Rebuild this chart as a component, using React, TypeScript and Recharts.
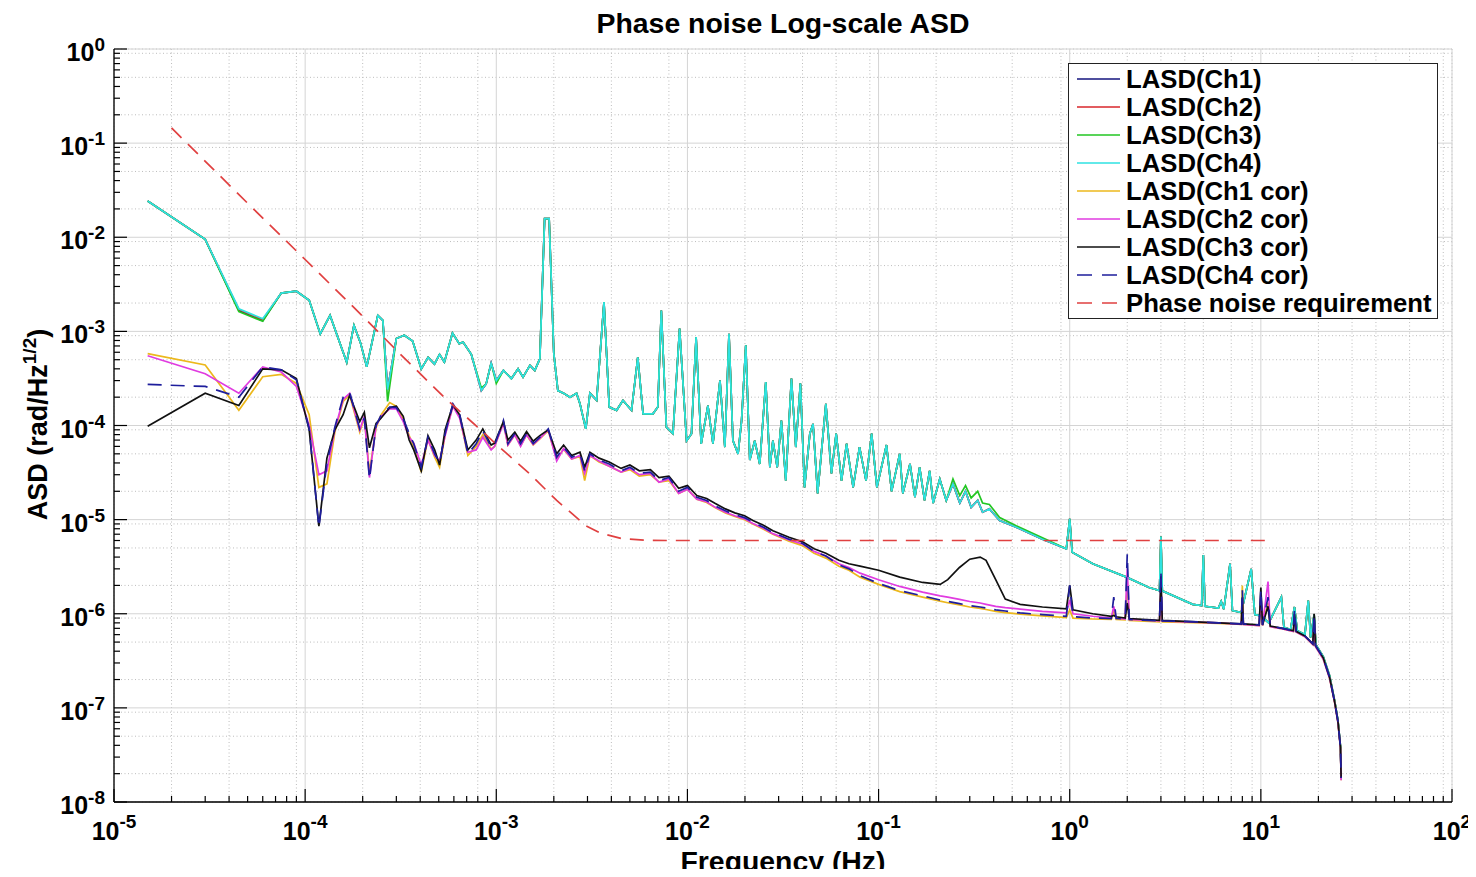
import React from "react";
import { LineChart, Line, XAxis, YAxis, CartesianGrid, Legend, Label } from "recharts";

const FONT = "'Liberation Sans', Arial, Helvetica, sans-serif";

// axis ticks
const xMajor = [1e-5, 1e-4, 1e-3, 1e-2, 1e-1, 1, 10, 100];
const xExp = ["-5", "-4", "-3", "-2", "-1", "0", "1", "2"];
const yMajor = [1e-8, 1e-7, 1e-6, 1e-5, 1e-4, 1e-3, 1e-2, 1e-1, 1];
const yExp = ["-8", "-7", "-6", "-5", "-4", "-3", "-2", "-1", "0"];
const minorSteps = [2, 3, 4, 5, 6, 7, 8, 9];
const xMinor = xMajor.slice(0, -1).flatMap((d) => minorSteps.map((m) => m * d));
const yMinor = yMajor.slice(0, -1).flatMap((d) => minorSteps.map((m) => m * d));
const xAll = [...xMajor, ...xMinor].sort((a, b) => a - b);
const yAll = [...yMajor, ...yMinor].sort((a, b) => a - b);
const xDomain = [1e-5, 100];
const yDomain = [1e-8, 1];

// uncorrected channels (upper bundle)
const upperFreq = [
  1.5e-5, 3e-5, 4.5e-5, 6e-5, 7.5e-5, 9e-5, 1.05e-4, 1.2e-4, 1.35e-4, 1.65e-4,
  1.8e-4, 1.95e-4, 2.1e-4, 2.4e-4, 2.55e-4, 2.7e-4, 3.0e-4, 3.3e-4, 3.65e-4, 4.05e-4,
  4.4e-4, 4.75e-4, 5.05e-4, 5.35e-4, 5.9e-4, 6.4e-4, 6.7e-4, 7.4e-4, 8.35e-4, 8.85e-4,
  9.4e-4, 1.0e-3, 1.09e-3, 1.2e-3, 1.3e-3, 1.38e-3, 1.5e-3, 1.59e-3, 1.69e-3, 1.79e-3,
  1.89e-3, 2.0e-3, 2.1e-3, 2.25e-3, 2.43e-3, 2.63e-3, 2.74e-3, 2.94e-3, 3.09e-3, 3.35e-3,
  3.66e-3, 3.9e-3, 4.26e-3, 4.6e-3, 5.1e-3, 5.5e-3, 5.86e-3, 6.6e-3, 7.0e-3, 7.3e-3,
  7.76e-3, 8.4e-3, 9.1e-3, 9.9e-3, 1.05e-2, 1.11e-2, 1.18e-2, 1.28e-2, 1.36e-2, 1.48e-2,
  1.57e-2, 1.65e-2, 1.73e-2, 1.84e-2, 1.92e-2, 2.02e-2, 2.12e-2, 2.25e-2, 2.39e-2, 2.57e-2,
  2.7e-2, 2.8e-2, 2.95e-2, 3.1e-2, 3.27e-2, 3.5e-2, 3.69e-2, 3.9e-2, 4.1e-2, 4.37e-2,
  4.54e-2, 4.8e-2, 5.3e-2, 5.67e-2, 6.0e-2, 6.4e-2, 6.8e-2, 7.36e-2, 7.95e-2, 8.6e-2,
  9.2e-2, 9.8e-2, 0.11, 0.117, 0.129, 0.134, 0.146, 0.155, 0.164, 0.174,
  0.185, 0.193, 0.209, 0.226, 0.245, 0.266, 0.285, 0.305, 0.33, 0.35,
  0.38, 0.43, 0.525, 0.72, 0.96, 1.0, 1.03, 1.32, 1.98, 2.6,
  2.95, 3.0, 3.05, 4.4, 4.9, 5.0, 5.1, 6.0, 6.2, 6.4,
  6.9, 7.1, 7.9, 8.9, 9.3, 10.0, 11.0, 12.8, 13.2, 14.3,
  15.0, 15.5, 17.0, 17.7, 18.2, 19.0, 19.4, 21.2, 22.9, 24.3,
  25.3, 26.1, 26.3,
];

const ch4Vals = [
  2.43e-2, 9.5e-3, 1.74e-3, 1.36e-3, 2.55e-3, 2.67e-3, 2.14e-3, 9.4e-4, 1.48e-3, 4.7e-4,
  1.16e-3, 7.5e-4, 4.2e-4, 1.48e-3, 1.31e-3, 2.4e-4, 8.4e-4, 9.1e-4, 7.9e-4, 4.0e-4,
  5.3e-4, 4.5e-4, 5.7e-4, 4.7e-4, 9.6e-4, 7.4e-4, 7.7e-4, 5.7e-4, 2.35e-4, 2.77e-4,
  4.6e-4, 3.0e-4, 3.85e-4, 3.15e-4, 4.0e-4, 3.27e-4, 4.36e-4, 3.85e-4, 5.1e-4, 1.58e-2,
  1.58e-2, 5.8e-4, 2.35e-4, 2.2e-4, 2.0e-4, 2.2e-4, 1.7e-4, 9.2e-5, 2.2e-4, 1.85e-4,
  2.05e-3, 1.57e-4, 1.45e-4, 1.85e-4, 1.45e-4, 5.3e-4, 1.33e-4, 1.33e-4, 1.57e-4, 1.67e-3,
  9.6e-5, 8.2e-5, 1.07e-3, 6.9e-5, 8.2e-5, 8.7e-4, 6.4e-5, 1.63e-4, 6.4e-5, 3.0e-4,
  5.9e-5, 9.4e-4, 6.9e-5, 5.0e-5, 1.13e-4, 7.1e-4, 4.3e-5, 6.9e-5, 3.9e-5, 2.9e-4,
  3.6e-5, 6.9e-5, 3.6e-5, 1.13e-4, 2.6e-5, 3.15e-4, 5.9e-5, 2.8e-4, 2.2e-5, 8.2e-5,
  1.04e-4, 1.9e-5, 1.7e-4, 3.1e-5, 8.2e-5, 2.6e-5, 6.4e-5, 2.2e-5, 5.9e-5, 2.6e-5,
  8.2e-5, 2.2e-5, 6.2e-5, 2.0e-5, 5.0e-5, 1.9e-5, 3.9e-5, 1.73e-5, 3.6e-5, 1.6e-5,
  3.3e-5, 1.5e-5, 2.7e-5, 1.6e-5, 2.4e-5, 1.5e-5, 2.0e-5, 1.35e-5, 1.6e-5, 1.2e-5,
  1.3e-5, 9.8e-6, 8.3e-6, 6.2e-6, 4.9e-6, 1.02e-5, 4.5e-6, 3.4e-6, 2.45e-6, 1.9e-6,
  1.76e-6, 6.6e-6, 1.75e-6, 1.26e-6, 1.22e-6, 4.2e-6, 1.2e-6, 1.15e-6, 1.35e-6, 1.12e-6,
  3.4e-6, 1.08e-6, 1.03e-6, 3.0e-6, 9.8e-7, 9.5e-7, 8.0e-7, 1.5e-6, 7.2e-7, 6.8e-7,
  1.18e-6, 6.6e-7, 6.0e-7, 1.38e-6, 5.6e-7, 9.8e-7, 4.7e-7, 3.5e-7, 2.2e-7, 1.2e-7,
  7.4e-8, 3.9e-8, 1.9e-8,
];

const ch3Vals = [
  2.43e-2, 9.5e-3, 1.62e-3, 1.28e-3, 2.55e-3, 2.67e-3, 2.14e-3, 9.4e-4, 1.48e-3, 4.7e-4,
  1.16e-3, 7.5e-4, 4.2e-4, 1.48e-3, 1.31e-3, 1.8e-4, 8.4e-4, 9.1e-4, 7.9e-4, 4.0e-4,
  5.3e-4, 4.5e-4, 5.7e-4, 4.7e-4, 9.6e-4, 7.4e-4, 7.7e-4, 5.7e-4, 2.5e-4, 2.77e-4,
  4.6e-4, 2.8e-4, 3.85e-4, 3.15e-4, 4.0e-4, 3.27e-4, 4.36e-4, 3.85e-4, 5.1e-4, 1.58e-2,
  1.58e-2, 5.8e-4, 2.35e-4, 2.2e-4, 2.0e-4, 2.2e-4, 1.7e-4, 9.2e-5, 2.2e-4, 1.85e-4,
  2.05e-3, 1.57e-4, 1.45e-4, 1.85e-4, 1.45e-4, 5.3e-4, 1.33e-4, 1.33e-4, 1.57e-4, 1.67e-3,
  9.6e-5, 8.2e-5, 1.07e-3, 6.9e-5, 8.2e-5, 8.7e-4, 6.4e-5, 1.63e-4, 6.4e-5, 3.0e-4,
  5.9e-5, 9.4e-4, 6.9e-5, 5.0e-5, 1.13e-4, 7.1e-4, 4.3e-5, 6.9e-5, 3.9e-5, 2.9e-4,
  3.6e-5, 6.9e-5, 3.6e-5, 1.13e-4, 2.6e-5, 3.15e-4, 5.9e-5, 2.8e-4, 2.2e-5, 8.2e-5,
  1.04e-4, 1.9e-5, 1.7e-4, 3.1e-5, 8.2e-5, 2.6e-5, 6.4e-5, 2.2e-5, 5.9e-5, 2.6e-5,
  8.2e-5, 2.2e-5, 6.2e-5, 2.0e-5, 5.0e-5, 1.9e-5, 3.9e-5, 1.73e-5, 3.6e-5, 1.6e-5,
  3.3e-5, 1.5e-5, 2.7e-5, 1.6e-5, 2.7e-5, 1.8e-5, 2.3e-5, 1.7e-5, 2.0e-5, 1.5e-5,
  1.45e-5, 1.05e-5, 8.6e-6, 6.4e-6, 4.9e-6, 1.02e-5, 4.5e-6, 3.4e-6, 2.45e-6, 1.9e-6,
  1.76e-6, 6.6e-6, 1.75e-6, 1.26e-6, 1.22e-6, 4.2e-6, 1.2e-6, 1.15e-6, 1.35e-6, 1.12e-6,
  3.4e-6, 1.08e-6, 1.03e-6, 3.0e-6, 9.8e-7, 9.5e-7, 8.0e-7, 1.5e-6, 7.2e-7, 6.8e-7,
  1.18e-6, 6.6e-7, 6.0e-7, 1.38e-6, 5.6e-7, 9.8e-7, 4.7e-7, 3.5e-7, 2.2e-7, 1.2e-7,
  7.4e-8, 3.9e-8, 1.9e-8,
];

const ch1Vals = [
  2.43e-2, 9.5e-3, 1.66e-3, 1.3e-3, 2.55e-3, 2.67e-3, 2.14e-3, 9.4e-4, 1.48e-3, 4.7e-4,
  1.16e-3, 7.5e-4, 4.2e-4, 1.48e-3, 1.31e-3, 2.4e-4, 8.4e-4, 9.1e-4, 7.9e-4, 4.0e-4,
  5.3e-4, 4.5e-4, 5.7e-4, 4.7e-4, 9.6e-4, 7.4e-4, 7.7e-4, 5.7e-4, 2.35e-4, 2.77e-4,
  4.6e-4, 3.0e-4, 3.85e-4, 3.15e-4, 4.0e-4, 3.27e-4, 4.36e-4, 3.85e-4, 5.1e-4, 1.58e-2,
  1.58e-2, 5.8e-4, 2.35e-4, 2.2e-4, 2.0e-4, 2.2e-4, 1.7e-4, 9.2e-5, 2.2e-4, 1.85e-4,
  2.05e-3, 1.57e-4, 1.45e-4, 1.85e-4, 1.45e-4, 5.3e-4, 1.33e-4, 1.33e-4, 1.57e-4, 1.67e-3,
  9.6e-5, 8.2e-5, 1.07e-3, 6.9e-5, 8.2e-5, 8.7e-4, 6.4e-5, 1.63e-4, 6.4e-5, 3.0e-4,
  5.9e-5, 9.4e-4, 6.9e-5, 5.0e-5, 1.13e-4, 7.1e-4, 4.3e-5, 6.9e-5, 3.9e-5, 2.9e-4,
  3.6e-5, 6.9e-5, 3.6e-5, 1.13e-4, 2.6e-5, 3.15e-4, 5.9e-5, 2.8e-4, 2.2e-5, 8.2e-5,
  1.04e-4, 1.9e-5, 1.7e-4, 3.1e-5, 8.2e-5, 2.6e-5, 6.4e-5, 2.2e-5, 5.9e-5, 2.6e-5,
  8.2e-5, 2.2e-5, 6.2e-5, 2.0e-5, 5.0e-5, 1.9e-5, 3.9e-5, 1.73e-5, 3.6e-5, 1.6e-5,
  3.3e-5, 1.5e-5, 2.7e-5, 1.6e-5, 2.4e-5, 1.5e-5, 2.0e-5, 1.35e-5, 1.6e-5, 1.2e-5,
  1.3e-5, 9.8e-6, 8.3e-6, 6.2e-6, 4.9e-6, 1.02e-5, 4.5e-6, 3.4e-6, 2.45e-6, 1.9e-6,
  1.76e-6, 6.6e-6, 1.75e-6, 1.26e-6, 1.22e-6, 4.2e-6, 1.2e-6, 1.15e-6, 1.35e-6, 1.12e-6,
  3.4e-6, 1.08e-6, 1.03e-6, 3.0e-6, 9.8e-7, 9.5e-7, 8.0e-7, 1.5e-6, 7.2e-7, 6.8e-7,
  1.18e-6, 6.6e-7, 6.0e-7, 1.38e-6, 5.6e-7, 9.8e-7, 4.7e-7, 3.5e-7, 2.2e-7, 1.2e-7,
  7.4e-8, 3.9e-8, 1.9e-8,
];

const ch2Vals = [
  2.43e-2, 9.5e-3, 1.7e-3, 1.33e-3, 2.55e-3, 2.67e-3, 2.14e-3, 9.4e-4, 1.48e-3, 4.7e-4,
  1.16e-3, 7.5e-4, 4.2e-4, 1.48e-3, 1.31e-3, 2.4e-4, 8.4e-4, 9.1e-4, 7.9e-4, 4.0e-4,
  5.3e-4, 4.5e-4, 5.7e-4, 4.7e-4, 9.6e-4, 7.4e-4, 7.7e-4, 5.7e-4, 2.35e-4, 2.77e-4,
  4.6e-4, 3.0e-4, 3.85e-4, 3.15e-4, 4.0e-4, 3.27e-4, 4.36e-4, 3.85e-4, 5.1e-4, 1.58e-2,
  1.58e-2, 5.8e-4, 2.35e-4, 2.2e-4, 2.0e-4, 2.2e-4, 1.7e-4, 9.2e-5, 2.2e-4, 1.85e-4,
  2.05e-3, 1.57e-4, 1.45e-4, 1.85e-4, 1.45e-4, 5.3e-4, 1.33e-4, 1.33e-4, 1.57e-4, 1.67e-3,
  9.6e-5, 8.2e-5, 1.07e-3, 6.9e-5, 8.2e-5, 8.7e-4, 6.4e-5, 1.63e-4, 6.4e-5, 3.0e-4,
  5.9e-5, 9.4e-4, 6.9e-5, 5.0e-5, 1.13e-4, 7.1e-4, 4.3e-5, 6.9e-5, 3.9e-5, 2.9e-4,
  3.6e-5, 6.9e-5, 3.6e-5, 1.13e-4, 2.6e-5, 3.15e-4, 5.9e-5, 2.8e-4, 2.2e-5, 8.2e-5,
  1.04e-4, 1.9e-5, 1.7e-4, 3.1e-5, 8.2e-5, 2.6e-5, 6.4e-5, 2.2e-5, 5.9e-5, 2.6e-5,
  8.2e-5, 2.2e-5, 6.2e-5, 2.0e-5, 5.0e-5, 1.9e-5, 3.9e-5, 1.73e-5, 3.6e-5, 1.6e-5,
  3.3e-5, 1.5e-5, 2.7e-5, 1.6e-5, 2.4e-5, 1.5e-5, 2.0e-5, 1.35e-5, 1.6e-5, 1.2e-5,
  1.3e-5, 9.8e-6, 8.3e-6, 6.2e-6, 4.9e-6, 1.02e-5, 4.5e-6, 3.4e-6, 2.45e-6, 1.9e-6,
  1.76e-6, 6.6e-6, 1.75e-6, 1.26e-6, 1.22e-6, 4.2e-6, 1.2e-6, 1.15e-6, 1.35e-6, 1.12e-6,
  3.4e-6, 1.08e-6, 1.03e-6, 3.0e-6, 9.8e-7, 9.5e-7, 8.0e-7, 1.5e-6, 7.2e-7, 6.8e-7,
  1.18e-6, 6.6e-7, 6.0e-7, 1.38e-6, 5.6e-7, 9.8e-7, 4.7e-7, 3.5e-7, 2.2e-7, 1.2e-7,
  7.4e-8, 3.9e-8, 1.9e-8,
];

// corrected channels (lower bundle)
const lowerFreq = [
  1.5e-5, 3e-5, 4.5e-5, 6e-5, 7.5e-5, 9e-5, 1.05e-4, 1.18e-4, 1.3e-4, 1.43e-4,
  1.58e-4, 1.71e-4, 1.93e-4, 2.04e-4, 2.17e-4, 2.35e-4, 2.5e-4, 2.77e-4, 3.0e-4, 3.26e-4,
  3.5e-4, 3.7e-4, 4.05e-4, 4.39e-4, 4.76e-4, 5.05e-4, 5.4e-4, 5.93e-4, 6.43e-4, 7.1e-4,
  7.85e-4, 8.5e-4, 9.4e-4, 9.8e-4, 1.09e-3, 1.15e-3, 1.25e-3, 1.34e-3, 1.44e-3, 1.56e-3,
  1.69e-3, 1.87e-3, 2.07e-3, 2.25e-3, 2.48e-3, 2.74e-3, 2.9e-3, 3.09e-3, 3.45e-3, 3.9e-3,
  4.5e-3, 5.0e-3, 5.6e-3, 6.4e-3, 7.1e-3, 8.0e-3, 9.0e-3, 1.0e-2, 1.12e-2, 1.26e-2,
  1.4e-2, 1.58e-2, 1.77e-2, 1.99e-2, 2.2e-2, 2.5e-2, 2.8e-2, 3.4e-2, 4.0e-2, 4.6e-2,
  5.3e-2, 6.2e-2, 7.0e-2, 8.0e-2, 0.1, 0.129, 0.17, 0.21, 0.23, 0.265,
  0.3, 0.34, 0.365, 0.41, 0.46, 0.55, 0.72, 0.96, 1.0, 1.04,
  1.32, 1.65, 1.7, 1.75, 1.95, 2.0, 2.05, 2.95, 3.0, 3.05,
  4.0, 6.0, 7.9, 8.0, 8.1, 9.8, 10.0, 10.2, 10.9, 11.2,
  13.0, 14.8, 15.0, 15.3, 17.0, 18.7, 19.0, 19.3, 21.2, 22.9,
  24.3, 25.3, 26.1, 26.3,
];

const ch1CorVals = [
  5.8e-4, 4.4e-4, 1.45e-4, 3.3e-4, 3.5e-4, 2.8e-4, 1.3e-4, 2.2e-5, 2.4e-5, 8.5e-5,
  1.8e-4, 2.1e-4, 8.5e-5, 1.2e-4, 3.2e-5, 9.5e-5, 1.3e-4, 1.75e-4, 1.6e-4, 1.15e-4,
  7.8e-5, 6.0e-5, 3.2e-5, 7.2e-5, 4.6e-5, 3.6e-5, 8.0e-5, 1.62e-4, 1.25e-4, 4.8e-5,
  6.0e-5, 8.0e-5, 5.6e-5, 6.0e-5, 1.08e-4, 6.2e-5, 7.9e-5, 6.1e-5, 7.9e-5, 6.2e-5,
  7.2e-5, 8.8e-5, 4.4e-5, 5.6e-5, 4.4e-5, 4.7e-5, 2.6e-5, 4.8e-5, 4.1e-5, 3.7e-5,
  3.2e-5, 3.4e-5, 2.9e-5, 3.0e-5, 2.5e-5, 2.6e-5, 1.9e-5, 2.1e-5, 1.65e-5, 1.52e-5,
  1.34e-5, 1.18e-5, 1.08e-5, 1.0e-5, 9.0e-6, 7.9e-6, 7.0e-6, 5.9e-6, 5.3e-6, 4.4e-6,
  3.9e-6, 3.2e-6, 2.9e-6, 2.45e-6, 2.05e-6, 1.72e-6, 1.5e-6, 1.36e-6, 1.31e-6, 1.24e-6,
  1.18e-6, 1.14e-6, 1.11e-6, 1.06e-6, 1.03e-6, 9.9e-7, 9.5e-7, 9.1e-7, 1.1e-6, 9.0e-7,
  8.8e-7, 8.7e-7, 1.1e-6, 8.7e-7, 8.6e-7, 2.2e-6, 8.5e-7, 8.2e-7, 1.6e-6, 8.2e-7,
  8.1e-7, 7.9e-7, 7.7e-7, 2.0e-6, 7.7e-7, 7.5e-7, 1.4e-6, 7.5e-7, 1.3e-6, 7.3e-7,
  6.9e-7, 6.5e-7, 8.5e-7, 6.4e-7, 5.7e-7, 4.7e-7, 8.0e-7, 4.5e-7, 3.3e-7, 2.05e-7,
  1.15e-7, 7.0e-8, 3.7e-8, 1.7e-8,
];

const ch2CorVals = [
  5.5e-4, 3.55e-4, 2.2e-4, 4.2e-4, 3.7e-4, 2.6e-4, 1.0e-4, 3.0e-5, 3.3e-5, 9.0e-5,
  1.9e-4, 2.2e-4, 9.0e-5, 1.25e-4, 2.8e-5, 1.0e-4, 1.25e-4, 1.5e-4, 1.5e-4, 1.1e-4,
  7.5e-5, 6.5e-5, 3.8e-5, 7.0e-5, 4.8e-5, 4.2e-5, 7.8e-5, 1.6e-4, 1.2e-4, 5.2e-5,
  5.5e-5, 7.5e-5, 5.5e-5, 6.0e-5, 1.05e-4, 6.2e-5, 8.0e-5, 6.0e-5, 8.0e-5, 6.3e-5,
  7.3e-5, 9.0e-5, 4.2e-5, 5.7e-5, 4.4e-5, 4.8e-5, 3.1e-5, 4.8e-5, 4.2e-5, 3.7e-5,
  3.2e-5, 3.5e-5, 3.0e-5, 3.1e-5, 2.5e-5, 2.7e-5, 1.9e-5, 2.1e-5, 1.65e-5, 1.55e-5,
  1.35e-5, 1.2e-5, 1.1e-5, 1.02e-5, 9.1e-6, 8.1e-6, 7.1e-6, 6.1e-6, 5.5e-6, 4.6e-6,
  4.1e-6, 3.4e-6, 3.1e-6, 2.7e-6, 2.3e-6, 1.95e-6, 1.7e-6, 1.55e-6, 1.5e-6, 1.42e-6,
  1.35e-6, 1.3e-6, 1.26e-6, 1.2e-6, 1.16e-6, 1.12e-6, 1.06e-6, 1.02e-6, 1.4e-6, 1.0e-6,
  9.4e-7, 9.0e-7, 1.2e-6, 9.0e-7, 8.8e-7, 3.0e-6, 8.7e-7, 8.4e-7, 2.0e-6, 8.4e-7,
  8.2e-7, 8.0e-7, 7.7e-7, 1.3e-6, 7.7e-7, 7.5e-7, 1.6e-6, 7.5e-7, 2.2e-6, 7.3e-7,
  6.9e-7, 6.5e-7, 9.0e-7, 6.4e-7, 5.7e-7, 4.7e-7, 8.5e-7, 4.5e-7, 3.3e-7, 2.05e-7,
  1.15e-7, 7.0e-8, 3.7e-8, 1.7e-8,
];

const ch3CorVals = [
  9.8e-5, 2.2e-4, 1.63e-4, 4.0e-4, 3.9e-4, 3.15e-4, 9.0e-5, 8.5e-6, 4.5e-5, 9.0e-5,
  1.3e-4, 2.1e-4, 1.1e-4, 1.38e-4, 5.8e-5, 1.05e-4, 1.2e-4, 1.55e-4, 1.6e-4, 1.25e-4,
  7.0e-5, 5.5e-5, 3.3e-5, 7.8e-5, 5.5e-5, 3.8e-5, 9.0e-5, 1.65e-4, 1.3e-4, 5.5e-5,
  7.0e-5, 9.2e-5, 6.2e-5, 6.5e-5, 1.1e-4, 7.0e-5, 8.5e-5, 6.8e-5, 8.6e-5, 6.8e-5,
  7.8e-5, 9.0e-5, 5.0e-5, 6.2e-5, 4.8e-5, 5.2e-5, 3.6e-5, 5.2e-5, 4.5e-5, 4.1e-5,
  3.5e-5, 3.8e-5, 3.3e-5, 3.4e-5, 2.8e-5, 2.9e-5, 2.15e-5, 2.3e-5, 1.8e-5, 1.68e-5,
  1.48e-5, 1.3e-5, 1.18e-5, 1.1e-5, 9.8e-6, 8.7e-6, 7.6e-6, 6.5e-6, 5.8e-6, 4.9e-6,
  4.4e-6, 3.7e-6, 3.4e-6, 3.2e-6, 2.9e-6, 2.45e-6, 2.15e-6, 2.05e-6, 2.3e-6, 3.1e-6,
  3.8e-6, 4.0e-6, 3.7e-6, 2.3e-6, 1.43e-6, 1.26e-6, 1.18e-6, 1.13e-6, 2.0e-6, 1.1e-6,
  1.0e-6, 9.4e-7, 9.6e-7, 9.3e-7, 9.0e-7, 1.3e-6, 8.9e-7, 8.5e-7, 2.5e-6, 8.5e-7,
  8.3e-7, 8.0e-7, 7.8e-7, 1.5e-6, 7.8e-7, 7.6e-7, 1.9e-6, 7.6e-7, 1.2e-6, 7.4e-7,
  7.0e-7, 6.6e-7, 1.0e-6, 6.5e-7, 5.8e-7, 4.8e-7, 1.0e-6, 4.6e-7, 3.4e-7, 2.1e-7,
  1.17e-7, 7.2e-8, 3.8e-8, 1.8e-8,
];

const ch4CorVals = [
  2.73e-4, 2.6e-4, 2.0e-4, 4.2e-4, 3.9e-4, 3.05e-4, 9.2e-5, 8.3e-6, 4.0e-5, 9.6e-5,
  2.0e-4, 2.26e-4, 9.2e-5, 1.2e-4, 2.7e-5, 1.0e-4, 1.3e-4, 1.57e-4, 1.55e-4, 1.18e-4,
  8.2e-5, 6.4e-5, 3.6e-5, 7.5e-5, 5.0e-5, 4.0e-5, 8.2e-5, 1.7e-4, 1.32e-4, 5.0e-5,
  6.4e-5, 8.8e-5, 5.9e-5, 6.2e-5, 1.13e-4, 6.4e-5, 8.2e-5, 6.4e-5, 8.2e-5, 6.4e-5,
  7.5e-5, 9.2e-5, 4.6e-5, 5.9e-5, 4.6e-5, 5.0e-5, 3.3e-5, 5.0e-5, 4.3e-5, 3.9e-5,
  3.3e-5, 3.6e-5, 3.1e-5, 3.2e-5, 2.6e-5, 2.8e-5, 2.0e-5, 2.2e-5, 1.73e-5, 1.6e-5,
  1.4e-5, 1.24e-5, 1.13e-5, 1.05e-5, 9.4e-6, 8.3e-6, 7.3e-6, 6.2e-6, 5.6e-6, 4.6e-6,
  4.1e-6, 3.3e-6, 3.0e-6, 2.54e-6, 2.1e-6, 1.76e-6, 1.55e-6, 1.4e-6, 1.35e-6, 1.28e-6,
  1.22e-6, 1.18e-6, 1.15e-6, 1.1e-6, 1.07e-6, 1.02e-6, 9.8e-7, 9.4e-7, 2.0e-6, 9.3e-7,
  9.0e-7, 8.9e-7, 1.5e-6, 8.9e-7, 8.8e-7, 4.3e-6, 8.7e-7, 8.4e-7, 2.8e-6, 8.4e-7,
  8.3e-7, 8.0e-7, 7.8e-7, 1.8e-6, 7.8e-7, 7.6e-7, 1.8e-6, 7.6e-7, 1.5e-6, 7.4e-7,
  7.0e-7, 6.6e-7, 1.1e-6, 6.5e-7, 5.8e-7, 4.8e-7, 9.8e-7, 4.6e-7, 3.4e-7, 2.1e-7,
  1.17e-7, 7.2e-8, 3.8e-8, 1.8e-8,
];

// requirement curve
const reqFreq = [2e-5, 5e-5, 1e-4, 2e-4, 3.1e-4, 5.4e-4, 8.5e-4, 1.0e-3, 1.5e-3, 2.07e-3, 2.5e-3, 2.95e-3, 3.5e-3, 4.5e-3, 6e-3, 8e-3, 1e-2, 11.1];
const reqVals = [1.45e-1, 2.3e-2, 5.8e-3, 1.45e-3, 5.9e-4, 1.95e-4, 8.6e-5, 6.3e-5, 3.05e-5, 1.6e-5, 1.15e-5, 8.6e-6, 7.2e-6, 6.3e-6, 6.05e-6, 6.0e-6, 6.0e-6, 6.0e-6];

const toPoints = (fs: number[], vs: number[]) => fs.map((f, i) => ({ f, v: vs[i] }));

type Series = { name: string; data: { f: number; v: number }[]; color: string; dash?: string };

const series: Series[] = [
  { name: "LASD(Ch1)", data: toPoints(upperFreq, ch1Vals), color: "#14147e" },
  { name: "LASD(Ch2)", data: toPoints(upperFreq, ch2Vals), color: "#d9262b" },
  { name: "LASD(Ch3)", data: toPoints(upperFreq, ch3Vals), color: "#22c622" },
  { name: "LASD(Ch4)", data: toPoints(upperFreq, ch4Vals), color: "#2ee2e2" },
  { name: "LASD(Ch1 cor)", data: toPoints(lowerFreq, ch1CorVals), color: "#ecb81c" },
  { name: "LASD(Ch2 cor)", data: toPoints(lowerFreq, ch2CorVals), color: "#e03be0" },
  { name: "LASD(Ch3 cor)", data: toPoints(lowerFreq, ch3CorVals), color: "#111111" },
  { name: "LASD(Ch4 cor)", data: toPoints(lowerFreq, ch4CorVals), color: "#1e1e9c", dash: "14 9" },
  { name: "Phase noise requirement", data: toPoints(reqFreq, reqVals), color: "#e04040", dash: "14 9" },
];

const tickLine = { stroke: "#000", strokeWidth: 1.2 };
const MAJOR_LEN = 13;
const MINOR_LEN = 6;

const BottomTick = (props: any) => {
  const { x, y, payload } = props;
  const i = xMajor.indexOf(payload.value);
  return (
    <g>
      <line x1={x} x2={x} y1={y} y2={y - (i >= 0 ? MAJOR_LEN : MINOR_LEN)} {...tickLine} />
      {i >= 0 && (
        <text x={x} y={y + 38} textAnchor="middle" fontFamily={FONT} fontWeight={700} fill="#000">
          <tspan fontSize={25}>10</tspan>
          <tspan fontSize={19} dy={-12}>{xExp[i]}</tspan>
        </text>
      )}
    </g>
  );
};

const TopTick = (props: any) => {
  const { x, y, payload } = props;
  const major = xMajor.indexOf(payload.value) >= 0;
  return <line x1={x} x2={x} y1={y} y2={y + (major ? MAJOR_LEN : MINOR_LEN)} {...tickLine} />;
};

const LeftTick = (props: any) => {
  const { x, y, payload } = props;
  const i = yMajor.indexOf(payload.value);
  return (
    <g>
      <line x1={x} x2={x + (i >= 0 ? MAJOR_LEN : MINOR_LEN)} y1={y} y2={y} {...tickLine} />
      {i >= 0 && (
        <text x={x - 9} y={y + 12} textAnchor="end" fontFamily={FONT} fontWeight={700} fill="#000">
          <tspan fontSize={25}>10</tspan>
          <tspan fontSize={19} dy={-10}>{yExp[i]}</tspan>
        </text>
      )}
    </g>
  );
};

const RightTick = (props: any) => {
  const { x, y, payload } = props;
  const major = yMajor.indexOf(payload.value) >= 0;
  return <line x1={x} x2={x - (major ? MAJOR_LEN : MINOR_LEN)} y1={y} y2={y} {...tickLine} />;
};

const titleFont = { fontFamily: FONT, fontWeight: 700, fontSize: 28.4, fill: "#000" };

const XTitle = (props: any) => {
  const vb = props.viewBox;
  return (
    <text x={vb.x + vb.width / 2} y={vb.y + 69} textAnchor="middle" {...titleFont}>
      Frequency (Hz)
    </text>
  );
};

const YTitle = (props: any) => {
  const vb = props.viewBox;
  const cx = vb.x + vb.width - 67;
  const cy = vb.y + vb.height / 2 - 1;
  return (
    <text x={cx} y={cy} textAnchor="middle" transform={`rotate(-90 ${cx} ${cy})`} {...titleFont} fontSize={27}>
      <tspan>ASD (rad/Hz</tspan>
      <tspan fontSize={19} dy={-11}>1/2</tspan>
      <tspan dy={11}>)</tspan>
    </text>
  );
};

const LegendBox = () => (
  <div
    style={{
      boxSizing: "border-box",
      width: 370,
      height: 256,
      border: "1px solid #222",
      background: "#fff",
      paddingTop: 1,
      fontFamily: FONT,
      fontWeight: 700,
      fontSize: 25.7,
      color: "#000",
    }}
  >
    {series.map((s) => (
      <div key={s.name} style={{ display: "flex", alignItems: "center", height: 28 }}>
        <svg width={52} height={6} style={{ flex: "none" }}>
          <line x1={8} x2={51} y1={3} y2={3} stroke={s.color} strokeWidth={1.5} strokeDasharray={s.dash ? "15 10" : undefined} />
        </svg>
        <span style={{ marginLeft: 5, lineHeight: "28px", whiteSpace: "nowrap" }}>{s.name}</span>
      </div>
    ))}
  </div>
);

export default function App() {
  return (
    <div style={{ position: "relative", width: 1468, height: 869, marginBottom: -8, marginRight: -8 }}>
      <div
        style={{
          position: "absolute",
          left: 106,
          top: 1,
          width: 1338,
          textAlign: "center",
          fontFamily: FONT,
          fontWeight: 700,
          fontSize: 28.4,
          lineHeight: "28.4px",
          color: "#000",
          zIndex: 2,
        }}
      >
        Phase noise Log-scale ASD
      </div>
      <LineChart width={1468} height={869} margin={{ top: 41, right: 24, bottom: 0, left: 0 }}>
        <XAxis
          xAxisId="x"
          type="number"
          dataKey="f"
          scale="log"
          domain={xDomain}
          allowDataOverflow
          ticks={xAll}
          interval={0}
          tickSize={0}
          tickMargin={0}
          tickLine={false}
          tick={BottomTick}
          height={75}
          axisLine={{ stroke: "#000", strokeWidth: 1.3 }}
        >
          <Label content={XTitle} />
        </XAxis>
        <XAxis
          xAxisId="top"
          orientation="top"
          type="number"
          dataKey="f"
          scale="log"
          domain={xDomain}
          allowDataOverflow
          ticks={xAll}
          interval={0}
          tickSize={0}
          tickMargin={0}
          tickLine={false}
          tick={TopTick}
          height={0}
          axisLine={{ stroke: "#000", strokeWidth: 1.3 }}
        />
        <YAxis
          yAxisId="y"
          type="number"
          scale="log"
          domain={yDomain}
          allowDataOverflow
          ticks={yAll}
          interval={0}
          tickSize={0}
          tickMargin={0}
          tickLine={false}
          tick={LeftTick}
          width={106}
          axisLine={{ stroke: "#000", strokeWidth: 1.3 }}
        >
          <Label content={YTitle} />
        </YAxis>
        <YAxis
          yAxisId="right"
          orientation="right"
          type="number"
          scale="log"
          domain={yDomain}
          allowDataOverflow
          ticks={yAll}
          interval={0}
          tickSize={0}
          tickMargin={0}
          tickLine={false}
          tick={RightTick}
          width={0}
          axisLine={{ stroke: "#000", strokeWidth: 1.3 }}
        />

        {/* hidden axes that only feed the two grids */}
        <XAxis xAxisId="gMaj" type="number" dataKey="f" scale="log" domain={xDomain} allowDataOverflow ticks={xMajor} height={0} hide />
        <YAxis yAxisId="gMaj" type="number" scale="log" domain={yDomain} allowDataOverflow ticks={yMajor} width={0} hide />
        <XAxis xAxisId="gMin" type="number" dataKey="f" scale="log" domain={xDomain} allowDataOverflow ticks={xMinor} height={0} hide />
        <YAxis yAxisId="gMin" type="number" scale="log" domain={yDomain} allowDataOverflow ticks={yMinor} width={0} hide />
        <CartesianGrid xAxisId="gMin" yAxisId="gMin" stroke="#bdbdbd" strokeDasharray="1 2.5" />
        <CartesianGrid xAxisId="gMaj" yAxisId="gMaj" stroke="#d4d4d4" />

        {series.map((s) => (
          <Line
            key={s.name}
            data={s.data}
            dataKey="v"
            name={s.name}
            xAxisId="x"
            yAxisId="y"
            type="linear"
            stroke={s.color}
            strokeWidth={1.7}
            strokeDasharray={s.dash}
            dot={false}
            activeDot={false}
            isAnimationActive={false}
          />
        ))}

        <Legend
          layout="vertical"
          align="center"
          verticalAlign="middle"
          wrapperStyle={{ position: "absolute", left: 1060, top: 55, width: 370, height: 256 }}
          content={() => <LegendBox />}
        />
      </LineChart>
    </div>
  );
}
